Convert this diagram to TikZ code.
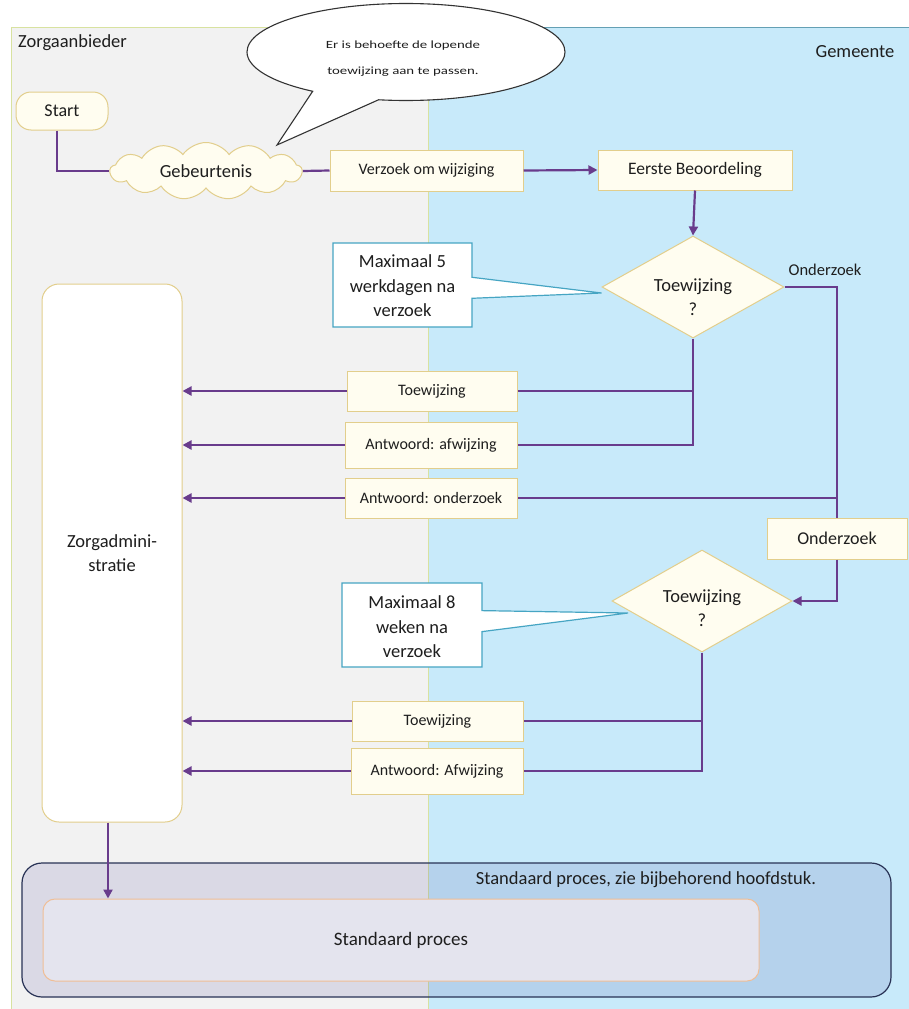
\documentclass[tikz,border=0pt]{standalone}
\usepackage{fontspec}
\setmainfont{Carlito}
\usetikzlibrary{shapes.geometric,shapes.symbols,shapes.callouts,arrows.meta,calc}
\definecolor{lanegrey}{RGB}{242,242,242}
\definecolor{laneblue}{RGB}{200,234,250}
\definecolor{laneline}{RGB}{216,226,160}
\definecolor{bluetop}{RGB}{100,160,180}
\definecolor{boxfill}{RGB}{255,253,240}
\definecolor{boxline}{RGB}{226,206,140}
\definecolor{flow}{RGB}{105,60,140}
\definecolor{noteline}{RGB}{70,165,195}
\definecolor{txt}{RGB}{30,30,30}
\definecolor{navy}{RGB}{40,50,85}
\definecolor{stdover}{RGB}{60,55,145}
\definecolor{peach}{RGB}{240,190,150}
\definecolor{innerfill}{RGB}{228,228,238}
\begin{document}
\begin{tikzpicture}[x=1pt,y=-1pt,
  procbox/.style={draw=boxline, fill=boxfill, line width=1pt, inner sep=0pt, text=txt, font=\fontsize{16}{19}\selectfont},
  flowline/.style={draw=flow, line width=2.2pt},
  flowarrow/.style={flowline, -{Triangle[length=9pt,width=9pt]}},
  decision/.style={diamond, draw=boxline, fill=boxfill, line width=1pt, inner sep=0pt, minimum width=182pt, minimum height=102pt},
  note/.style={rectangle callout, draw=noteline, fill=white, line width=1.2pt, inner sep=0pt, minimum width=139pt, minimum height=84pt, callout pointer width=21pt},
  bigtext/.style={text=txt, font=\fontsize{18.5}{24.5}\selectfont, align=center, inner sep=0pt},
  lanelabel/.style={text=txt, font=\fontsize{18.5}{22}\selectfont, inner sep=0pt}
]
% background and bounding box
\path[use as bounding box, fill=white] (0,0) rectangle (909,1009);
% lanes
\path[fill=lanegrey] (11,27) rectangle (428,1012);
\path[fill=laneblue] (428,27) rectangle (912,1012);
\draw[laneline, line width=1pt] (11,1012) -- (11,27) -- (428,27) -- (428,1012);
\draw[bluetop, line width=1pt] (428,27) -- (912,27);
\node[lanelabel, anchor=west] (zalabel) at (18,43) {Zorgaanbieder};
\node[lanelabel] (gmlabel) at (855,52) {Gemeente};

% start and event
\node[procbox, rounded corners=15pt, minimum width=92pt, minimum height=38pt, font=\fontsize{18}{22}\selectfont] (start) at (62,111) {Start};
\node[cloud, cloud puffs=13, cloud puff arc=110, cloud ignores aspect, draw=boxline, fill=boxfill, line width=1pt, minimum width=192pt, minimum height=57pt, inner sep=0pt, text=txt, font=\fontsize{18.5}{22}\selectfont] (event) at (206,171) {Gebeurtenis};

% speech bubble
\node[ellipse callout, draw=black!80, fill=white, line width=1.1pt, minimum width=318pt, minimum height=97pt, inner sep=0pt, callout absolute pointer={(277,145)}, callout pointer arc=26] (bubble) at (406,52) {};
\node[text=txt, font=\fontsize{11}{26}\selectfont, align=center, inner sep=0pt] (bubbletext) at (403,59) {\scalebox{1.35}[1]{Er is behoefte de lopende}\\\scalebox{1.35}[1]{toewijzing aan te passen.}};

% request boxes
\node[procbox, minimum width=193pt, minimum height=41pt] (verzoek) at (426.5,170.5) {Verzoek om wijziging};
\node[procbox, minimum width=194pt, minimum height=40pt, font=\fontsize{17.5}{21}\selectfont] (eerste) at (695,170) {Eerste Beoordeling};

% decisions
\node[decision] (d1) at (693,287) {};
\node[bigtext] (d1t) at (693,297) {Toewijzing\\?};
\node[decision, minimum width=180pt] (d2) at (702,601) {};
\node[bigtext] (d2t) at (702,608) {Toewijzing\\?};
\node[lanelabel, font=\fontsize{16.5}{19}\selectfont] (onlabel) at (825,270) {Onderzoek};

% notes
\node[note, callout absolute pointer={([yshift=-6pt]d1.west)}] (note1) at (402.5,285) {};
\node[bigtext] (note1t) at (402.5,286) {Maximaal 5\\werkdagen na\\verzoek};
\node[note, minimum width=140pt, callout absolute pointer={(628,613)}] (note2) at (412,625) {};
\node[bigtext] (note2t) at (412,627) {Maximaal 8\\weken na\\verzoek};

% answer boxes
\node[procbox, minimum width=170pt, minimum height=40pt] (t1) at (432,391) {Toewijzing};
\node[procbox, minimum width=172pt, minimum height=46pt] (a1) at (431,445) {Antwoord: afwijzing};
\node[procbox, minimum width=172pt, minimum height=40pt] (ao) at (431,498) {Antwoord: onderzoek};
\node[procbox, minimum width=140pt, minimum height=41pt, font=\fontsize{18}{22}\selectfont] (on) at (837,538.5) {Onderzoek};
\node[procbox, minimum width=171pt, minimum height=40pt] (t2) at (437.5,721) {Toewijzing};
\node[procbox, minimum width=172pt, minimum height=46pt] (a2) at (437,771) {Antwoord: Afwijzing};

% administration
\node[draw=boxline, fill=white, line width=1pt, rounded corners=17pt, minimum width=140pt, minimum height=538pt, inner sep=0pt] (zorg) at (112,553) {};
\node[bigtext] (zorgt) at (112,553) {Zorgadmini-\\stratie};

% standard process
\node[draw=navy, line width=1.2pt, fill=stdover, fill opacity=0.13, draw opacity=1, rounded corners=20pt, minimum width=869pt, minimum height=134pt, inner sep=0pt] (std) at (456.5,930) {};
\node[lanelabel, font=\fontsize{18.5}{22}\selectfont] (stdt) at (646,880) {Standaard proces, zie bijbehorend hoofdstuk.};
\node[draw=peach, line width=1pt, fill=innerfill, rounded corners=12pt, minimum width=716pt, minimum height=82pt, inner sep=0pt, text=txt, font=\fontsize{19}{22}\selectfont] (inner) at (401,940) {Standaard proces};

% connectors
\draw[flowline] ([xshift=-5pt]start.south) |- (event.west);
\draw[flowline] (event.east) -- (verzoek.west);
\draw[flowarrow] (verzoek.east) -- (eerste.west);
\draw[flowarrow] (eerste.south) -- (d1.north);
\draw[flowline] (d1.east) -| (on.north);
\coordinate (jao) at (on.north |- ao.east);
\draw[flowline] (jao) -- (ao.east);
\draw[flowarrow] (on.south) |- (d2.east);
\draw[flowline] (d1.south) |- (a1.east);
\draw[flowline] (d1.south |- t1.east) -- (t1.east);
\draw[flowline] (d2.south) |- (a2.east);
\draw[flowline] (d2.south |- t2.east) -- (t2.east);
\draw[flowarrow] (t1.west) -- (t1.west -| zorg.east);
\draw[flowarrow] (a1.west) -- (a1.west -| zorg.east);
\draw[flowarrow] (ao.west) -- (ao.west -| zorg.east);
\draw[flowarrow] (t2.west) -- (t2.west -| zorg.east);
\draw[flowarrow] (a2.west) -- (a2.west -| zorg.east);
\draw[flowarrow] ([xshift=-4pt]zorg.south) -- ([xshift=-4pt]zorg.south |- inner.north);
\end{tikzpicture}
\end{document}
